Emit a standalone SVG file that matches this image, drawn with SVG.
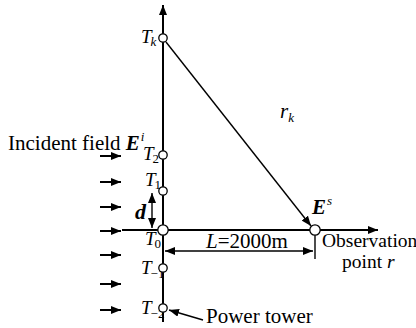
<svg xmlns="http://www.w3.org/2000/svg" width="416" height="328" viewBox="0 0 416 328">
<defs>
<marker id="ah" viewBox="0 0 10 8" refX="10" refY="4" markerWidth="10" markerHeight="8" markerUnits="userSpaceOnUse" orient="auto-start-reverse">
<path d="M0,0 L10,4 L0,8 z" fill="#000"/>
</marker>
</defs>
<style>
.ln{stroke:#000;stroke-width:2;fill:none}
.thin{stroke:#000;stroke-width:1.4;fill:none}
.nd{fill:#fff;stroke:#000;stroke-width:1.3}
text{font-family:"Liberation Serif","Times New Roman",serif;font-size:21px;fill:#000}
.it{font-style:italic}
.bi{font-style:italic;font-weight:bold}
.tl{font-size:19px;font-style:italic}
.sub{font-size:13px;font-style:normal}
.subi{font-size:13px;font-style:italic;font-weight:normal}
</style>
<rect width="416" height="328" fill="#fff"/>
<g id="connectors">
<line class="ln" x1="163" y1="322" x2="163" y2="5" marker-end="url(#ah)"/>
<line class="ln" x1="122" y1="230" x2="378" y2="230" marker-end="url(#ah)"/>
<line class="thin" x1="166" y1="42" x2="311" y2="226" marker-end="url(#ah)"/>
<line class="thin" x1="315" y1="235" x2="315" y2="259"/>
<line class="thin" x1="165" y1="251" x2="313" y2="251" marker-start="url(#ah)" marker-end="url(#ah)"/>
<line class="thin" x1="152" y1="193" x2="152" y2="228" marker-start="url(#ah)" marker-end="url(#ah)"/>
<line class="thin" x1="203" y1="320" x2="169" y2="310" marker-end="url(#ah)"/>
<g id="incident">
<line class="ln" x1="100" y1="156" x2="121" y2="156" marker-end="url(#ah)"/>
<line class="ln" x1="100" y1="182" x2="121" y2="182" marker-end="url(#ah)"/>
<line class="ln" x1="100" y1="207" x2="121" y2="207" marker-end="url(#ah)"/>
<line class="ln" x1="100" y1="231" x2="121" y2="231" marker-end="url(#ah)"/>
<line class="ln" x1="100" y1="255" x2="121" y2="255" marker-end="url(#ah)"/>
<line class="ln" x1="100" y1="284" x2="121" y2="284" marker-end="url(#ah)"/>
<line class="ln" x1="100" y1="310" x2="121" y2="310" marker-end="url(#ah)"/>
</g>
</g>
<g id="Tk"><text x="141" y="43" class="tl">T<tspan class="subi" dy="3" dx="-1">k</tspan></text><circle class="nd" cx="163" cy="38" r="4.2"/></g>
<g id="T2"><text x="143" y="160" class="tl">T<tspan class="sub" dy="3" dx="-1">2</tspan></text><circle class="nd" cx="163" cy="155" r="4.2"/></g>
<g id="T1"><text x="145" y="186" class="tl">T<tspan class="sub" dy="3" dx="-1">1</tspan></text><circle class="nd" cx="163" cy="191" r="4.2"/></g>
<g id="T0"><text x="145" y="245" class="tl">T<tspan class="sub" dy="3" dx="-1">0</tspan></text><circle class="nd" cx="163" cy="230" r="5.2"/></g>
<g id="Tm1"><text x="141" y="274" class="tl">T<tspan class="sub" dy="4" dx="-1">−1</tspan></text><circle class="nd" cx="163" cy="268" r="4.2"/></g>
<g id="Tm2"><text x="141" y="314" class="tl">T<tspan class="sub" dy="4" dx="-1">−2</tspan></text><circle class="nd" cx="163" cy="308" r="4.2"/></g>
<g id="observation"><circle class="nd" cx="315" cy="230" r="5.2"/>
<text x="322" y="247" style="font-size:19.5px">Observation</text>
<text x="342" y="268" style="font-size:19.5px">point <tspan class="it">r</tspan></text>
<text x="312" y="214" class="bi">E<tspan class="subi" dx="1" dy="-9">s</tspan></text>
</g>
<text x="8" y="150">Incident field <tspan class="bi">E</tspan><tspan class="subi" dx="1" dy="-9">i</tspan></text>
<text x="280" y="118" class="it">r<tspan class="sub" style="font-style:italic" dy="4">k</tspan></text>
<text x="135" y="219" class="bi" style="font-size:22px">d</text>
<text x="206" y="248"><tspan class="it">L</tspan>=2000m</text>
<text x="206" y="323">Power tower</text>
</svg>
